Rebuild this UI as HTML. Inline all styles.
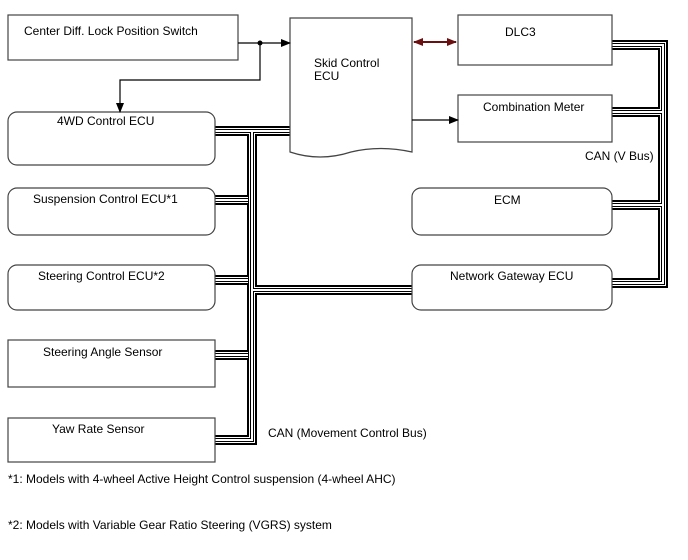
<!DOCTYPE html>
<html><head><style>
body{margin:0;background:#fff;}
svg{display:block;font-family:"Liberation Sans",sans-serif;font-size:12px;}
</style></head><body>
<svg width="688" height="560" viewBox="0 0 688 560" xmlns="http://www.w3.org/2000/svg">
<defs>
<marker id="ar" markerWidth="10" markerHeight="8" refX="9" refY="4" orient="auto" markerUnits="userSpaceOnUse"><path d="M0,0 L10,4 L0,8 z" fill="#000"/></marker>
<marker id="rr" markerWidth="10" markerHeight="8" refX="9" refY="4" orient="auto" markerUnits="userSpaceOnUse"><path d="M0,0 L10,4 L0,8 z" fill="#6b1010"/></marker>
<marker id="rl" markerWidth="10" markerHeight="8" refX="1" refY="4" orient="auto" markerUnits="userSpaceOnUse"><path d="M10,0 L0,4 L10,8 z" fill="#6b1010"/></marker>
<g id="bus" fill="none" stroke-linejoin="miter">
<path id="b" d="M290,131 H215 M252,131 V440 H215 M215,200 H248 M215,280 H248 M215,355 H248 M252,290 H412 M612,45 H663 V283 H612 M612,112 H663 M612,205 H663"/>
</g>
</defs>
<g fill="none">
<use href="#b" stroke="#000" stroke-width="10"/>
<use href="#b" stroke="#fff" stroke-width="6"/>
<use href="#b" stroke="#000" stroke-width="4"/>
<use href="#b" stroke="#fff" stroke-width="2"/>
</g>
<g fill="#fff" stroke="#444" stroke-width="1.2">
<rect x="8" y="15" width="230" height="45"/>
<rect x="458" y="15" width="154" height="50"/>
<rect x="458" y="95" width="154" height="47"/>
<rect x="8" y="112" width="207" height="53" rx="9"/>
<rect x="8" y="188" width="207" height="47" rx="9"/>
<rect x="8" y="265" width="207" height="45" rx="9"/>
<rect x="8" y="340" width="207" height="47"/>
<rect x="8" y="418" width="207" height="44"/>
<rect x="412" y="188" width="200" height="47" rx="9"/>
<rect x="412" y="265" width="200" height="45" rx="9"/>
<path d="M290,18 H412 V152 Q380,145 351,152 Q320,162 290,152 Z"/>
</g>
<g stroke="#000" stroke-width="1.2" fill="none">
<line x1="238" y1="43" x2="290" y2="43" marker-end="url(#ar)"/>
<path d="M260,43 V80 H120 V112" marker-end="url(#ar)"/>
<line x1="412" y1="120" x2="458" y2="120" marker-end="url(#ar)"/>
<line x1="414" y1="42" x2="456" y2="42" stroke="#6b1010" stroke-width="2" marker-start="url(#rl)" marker-end="url(#rr)"/>
</g>
<circle cx="260" cy="43" r="2.5" fill="#000"/>
<g fill="#000">
<text x="24" y="35">Center Diff. Lock Position Switch</text>
<text x="314" y="67">Skid Control</text>
<text x="314" y="80">ECU</text>
<text x="505" y="36">DLC3</text>
<text x="483" y="111">Combination Meter</text>
<text x="57" y="125">4WD Control ECU</text>
<text x="33" y="203">Suspension Control ECU*1</text>
<text x="38" y="280">Steering Control ECU*2</text>
<text x="43" y="356">Steering Angle Sensor</text>
<text x="52" y="433">Yaw Rate Sensor</text>
<text x="494" y="204">ECM</text>
<text x="450" y="280">Network Gateway ECU</text>
<text x="585" y="160">CAN (V Bus)</text>
<text x="268" y="437">CAN (Movement Control Bus)</text>
<text x="8" y="483">*1: Models with 4-wheel Active Height Control suspension (4-wheel AHC)</text>
<text x="8" y="529">*2: Models with Variable Gear Ratio Steering (VGRS) system</text>
</g>
</svg>
</body></html>
